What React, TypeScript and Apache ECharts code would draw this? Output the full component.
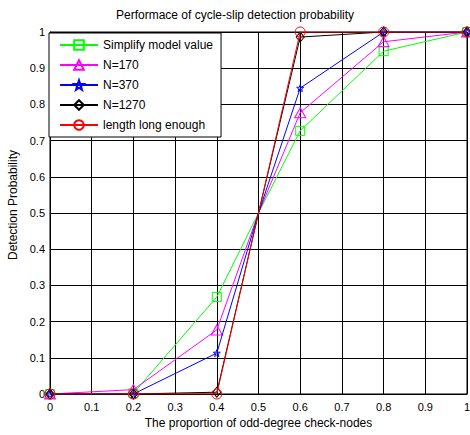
import React, { useEffect, useRef } from "react";
import * as echarts from "echarts";

const xValues = [0, 0.2, 0.4, 0.5, 0.6, 0.8, 1];
const simplifyModel = [0, 0.002, 0.268, 0.5, 0.727, 0.947, 1];
const n170 = [0, 0.012, 0.177, 0.5, 0.777, 0.973, 1];
const n370 = [0, 0, 0.113, 0.5, 0.845, 1, 1];
const n1270 = [0, 0, 0.005, 0.5, 0.986, 1, 1];
const longEnough = [0, 0, 0, 0.5, 1, 1, 1];
// x positions where no marker is drawn (lines only)
const noMarkerX = [0.5];

const seriesNames = ["Simplify model value", "N=170", "N=370", "N=1270", "length long enough"];
const seriesColors = ["#00ff00", "#ff00ff", "#0000ff", "#000000", "#ff0000"];
const titleText = "Performace of cycle-slip detection probability";
const xName = "The proportion of odd-degree check-nodes";
const yName = "Detection Probability";

const starPath =
  "path://M0,-10 L2.35,-3.24 L9.51,-3.09 L3.80,1.24 L5.88,8.09 L0,4 L-5.88,8.09 L-3.80,1.24 L-9.51,-3.09 L-2.35,-3.24 Z";

const FONT = "Liberation Sans, Arial, sans-serif";

export default function App() {
  const ref = useRef<HTMLDivElement>(null);
  useEffect(() => {
    if (!ref.current) return;
    const chart = echarts.init(ref.current, undefined, { renderer: "svg" });
    const allData = [simplifyModel, n170, n370, n1270, longEnough];
    const symbols = ["rect", "triangle", starPath, "diamond", "circle"];
    const sizes: any[] = [9, [11, 10], 7, [8, 10], 10];
    const series = allData.map((vals, i) => ({
      name: seriesNames[i],
      type: "line",
      data: xValues.map((x, j) =>
        noMarkerX.includes(x) ? { value: [x, vals[j]], symbol: "none" } : [x, vals[j]]
      ),
      symbol: symbols[i],
      symbolSize: sizes[i],
      showAllSymbol: true,
      lineStyle: { color: seriesColors[i], width: 1 },
      itemStyle: { color: "rgba(0,0,0,0)", borderColor: seriesColors[i], borderWidth: 1 },
      emphasis: { disabled: true },
      z: 2 + i,
    }));
    chart.setOption({
      animation: false,
      backgroundColor: "#ffffff",
      title: {
        text: titleText,
        left: "center",
        top: 4,
        textStyle: { fontFamily: FONT, fontSize: 12, fontWeight: "normal", color: "#000" },
      },
      grid: {
        left: 50,
        right: 3,
        top: 32,
        bottom: 41,
        outerBoundsMode: "none",
        containLabel: false,
        show: true,
        borderColor: "#000",
        borderWidth: 1,
      },
      legend: {
        orient: "vertical",
        left: 49,
        top: 33,
        padding: [6, 8, 6, 10],
        itemWidth: 38,
        itemHeight: 12,
        itemGap: 8,
        backgroundColor: "#ffffff",
        borderColor: "#000",
        borderWidth: 1,
        borderRadius: 0,
        data: seriesNames,
        textStyle: { fontFamily: FONT, fontSize: 12, color: "#000" },
        z: 10,
      },
      xAxis: {
        type: "value",
        min: 0,
        max: 1,
        interval: 0.1,
        name: xName,
        nameLocation: "middle",
        nameGap: 23,
        nameTextStyle: { fontFamily: FONT, fontSize: 12, color: "#000" },
        axisLine: { show: true, lineStyle: { color: "#000", width: 1 } },
        axisTick: { show: true, inside: true, length: 4, lineStyle: { color: "#000" } },
        axisLabel: { fontFamily: FONT, fontSize: 11, color: "#000", margin: 7 },
        splitLine: { show: true, lineStyle: { color: "#000", width: 1 } },
      },
      yAxis: {
        type: "value",
        min: 0,
        max: 1,
        interval: 0.1,
        name: yName,
        nameLocation: "middle",
        nameGap: 31,
        nameTextStyle: { fontFamily: FONT, fontSize: 12, color: "#000", padding: [0, 0, 0, 16] },
        axisLine: { show: true, lineStyle: { color: "#000", width: 1 } },
        axisTick: { show: true, inside: true, length: 4, lineStyle: { color: "#000" } },
        axisLabel: { fontFamily: FONT, fontSize: 11, color: "#000", margin: 5 },
        splitLine: { show: true, lineStyle: { color: "#000", width: 1 } },
      },
      series,
    });
    return () => chart.dispose();
  }, []);
  return (
    <div
      ref={ref}
      style={{ position: "fixed", left: 0, top: 0, width: 470, height: 435, background: "#fff" }}
    />
  );
}
